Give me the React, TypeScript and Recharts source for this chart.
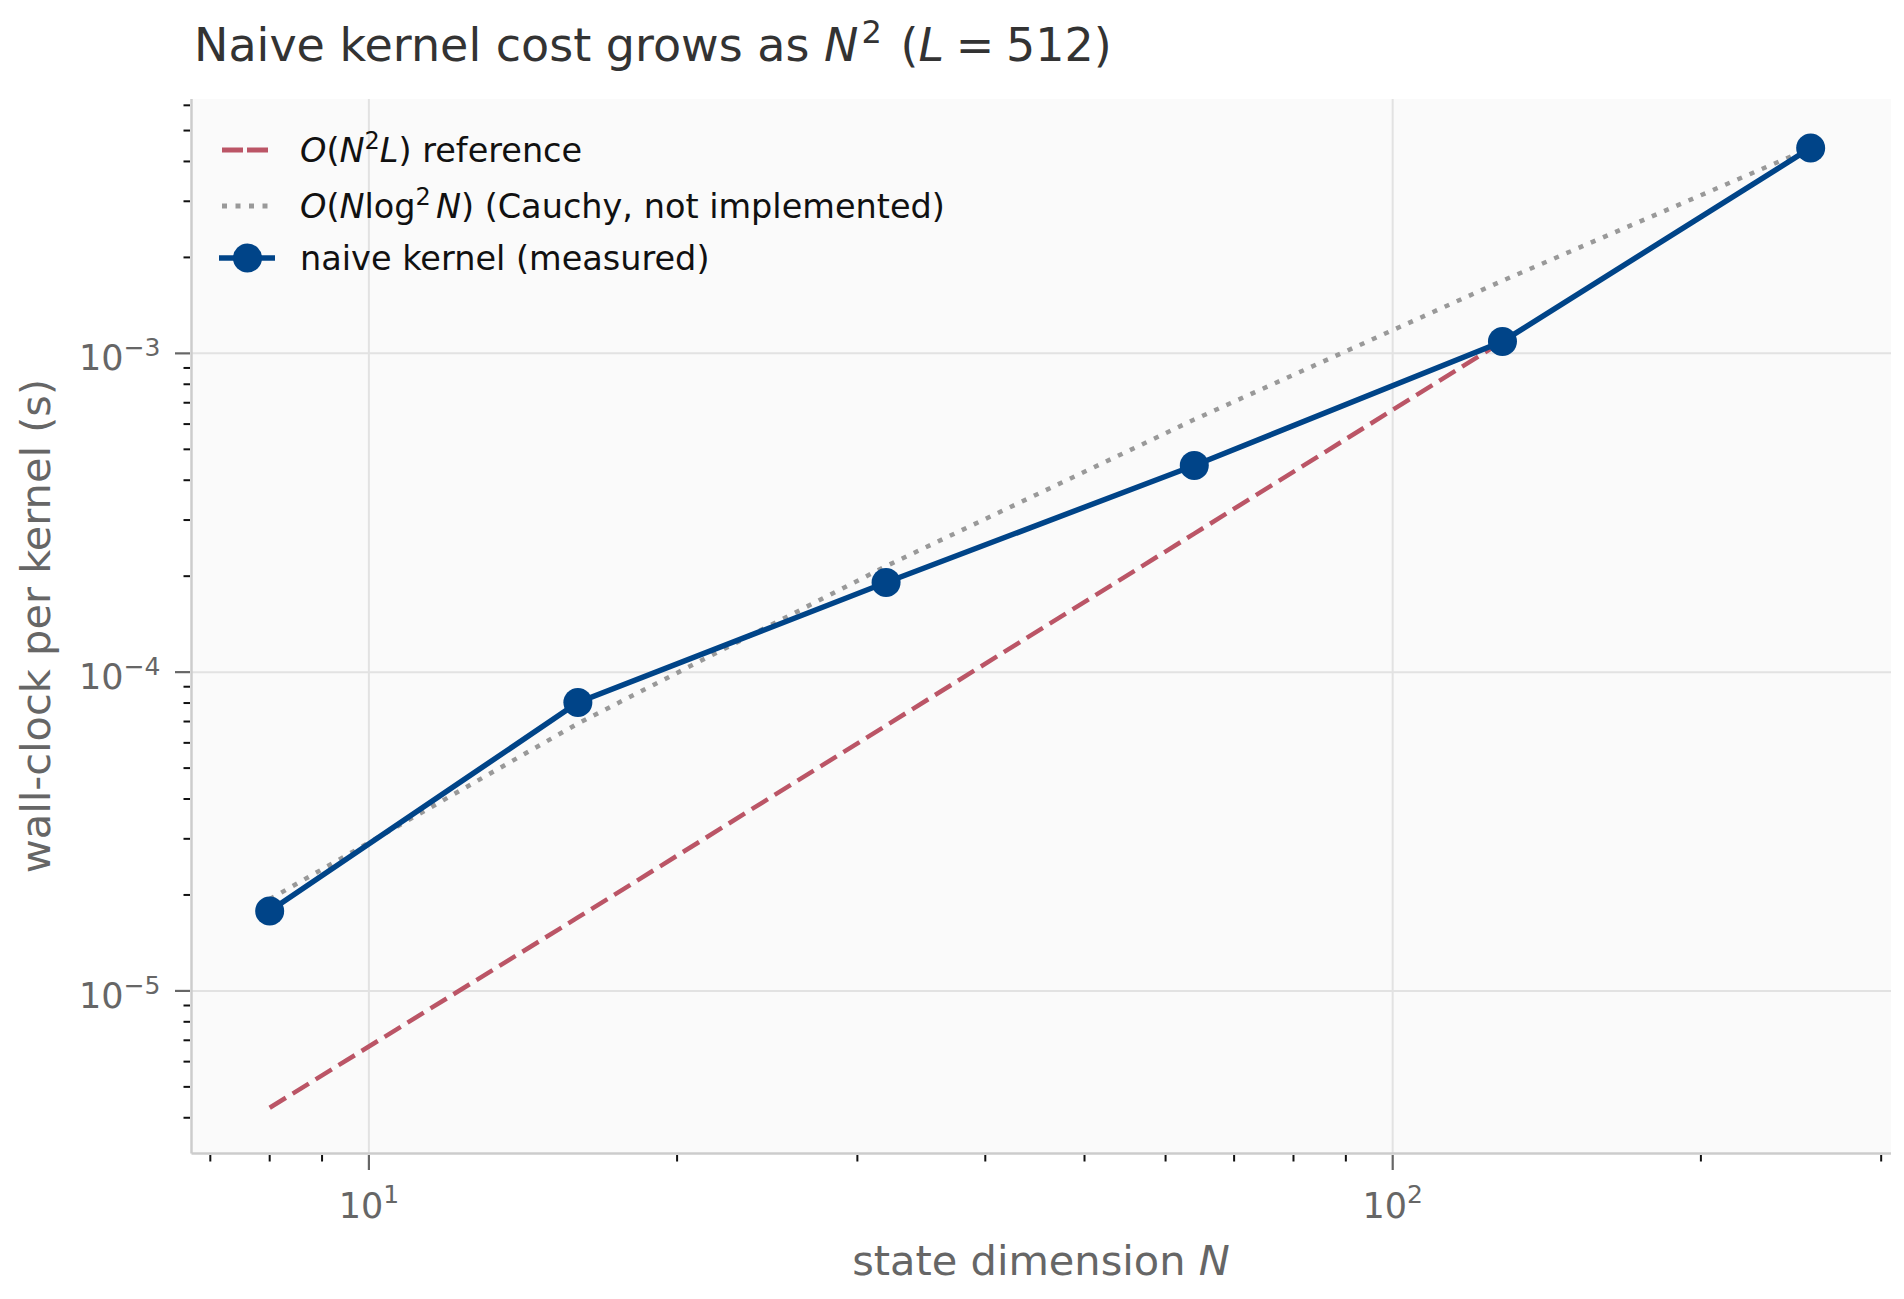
import React from "react";
import { LineChart, Line, XAxis, YAxis, CartesianGrid, Customized } from "recharts";

// state dimension N and wall-clock per kernel (s)
const stateDims = [8, 16, 32, 64, 128, 256];
const measuredSeconds = [1.78e-5, 8.03e-5, 1.91e-4, 4.45e-4, 1.09e-3, 4.41e-3];
const n2lReference = [4.3e-6, 1.7e-5, 6.8e-5, 2.72e-4, 1.09e-3, null];
const cauchyReference = [1.94e-5, 6.9e-5, 2.15e-4, 6.2e-4, 1.69e-3, 4.41e-3];

const xTicks = [7, 8, 9, 10, 20, 30, 40, 50, 60, 70, 80, 90, 100, 200, 300];
const xMajor = [10, 100];
const xMajorExp = ["1", "2"];

const yTicks = [
  4e-6, 5e-6, 6e-6, 7e-6, 8e-6, 9e-6,
  1e-5, 2e-5, 3e-5, 4e-5, 5e-5, 6e-5, 7e-5, 8e-5, 9e-5,
  1e-4, 2e-4, 3e-4, 4e-4, 5e-4, 6e-4, 7e-4, 8e-4, 9e-4,
  1e-3, 2e-3, 3e-3, 4e-3, 5e-3, 6e-3,
];
const yMajor = [1e-5, 1e-4, 1e-3];
const yMajorExp = ["\u22125", "\u22124", "\u22123"];

const FONT = "'DejaVu Sans', sans-serif";
const BLUE = "#004488";
const RED = "#BB5566";
const GREY = "#999999";

const data = stateDims.map((n, i) => ({
  n,
  measured: measuredSeconds[i],
  n2l: n2lReference[i],
  cauchy: cauchyReference[i],
}));

function XTick({ x, y, payload }: any) {
  const idx = xMajor.indexOf(payload.value);
  const major = idx >= 0;
  return (
    <g>
      <line
        x1={x}
        x2={x}
        y1={y + 1.5}
        y2={y + 1.5 + (major ? 15 : 6.5)}
        stroke={major ? "#666666" : "#111111"}
        strokeWidth={major ? 2.2 : 2}
      />
      {major && (
        <text x={x} y={y + 64.5} textAnchor="middle" fill="#666666" fontSize={35} fontFamily={FONT}>
          10
          <tspan dy={-15} fontSize={25}>
            {xMajorExp[idx]}
          </tspan>
        </text>
      )}
    </g>
  );
}

function YTick({ x, y, payload }: any) {
  const idx = yMajor.indexOf(payload.value);
  const major = idx >= 0;
  return (
    <g>
      <line
        x1={x - 1.5}
        x2={x - 1.5 - (major ? 15 : 6.5)}
        y1={y}
        y2={y}
        stroke={major ? "#666666" : "#111111"}
        strokeWidth={major ? 2.2 : 2}
      />
      {major && (
        <text x={x - 31} y={y + 16.6} textAnchor="end" fill="#666666" fontSize={35} fontFamily={FONT}>
          10
          <tspan dy={-14} fontSize={25}>
            {yMajorExp[idx]}
          </tspan>
        </text>
      )}
    </g>
  );
}

function Overlay() {
  const lx1 = 222;
  const lx2 = 268;
  const tx = 300;
  return (
    <g fontFamily={FONT}>
      {/* title */}
      <text x={194} y={61} fontSize={46} fill="#333333" style={{ whiteSpace: "pre" }}>
        Naive kernel cost grows as{" "}
        <tspan fontStyle="italic">N</tspan>
        <tspan dy={-18} dx={3} fontSize={32}>2</tspan>
        <tspan dy={18} dx={4}>{" ("}</tspan>
        <tspan fontStyle="italic">L</tspan>
        <tspan dx={-3}>{" = "}</tspan>
        <tspan dx={-3}>{"512)"}</tspan>
      </text>

      {/* axis labels */}
      <text x={1041} y={1275} textAnchor="middle" fontSize={41.5} fill="#666666">
        state dimension <tspan fontStyle="italic">N</tspan>
      </text>
      <text
        x={50}
        y={626}
        textAnchor="middle"
        fontSize={41.5}
        fill="#666666"
        transform="rotate(-90 50 626)"
      >
        wall-clock per kernel (s)
      </text>

      {/* legend */}
      <line x1={lx1} x2={lx2} y1={150} y2={150} stroke={RED} strokeWidth={5} strokeDasharray="21 4" />
      <text x={tx} y={161.5} fontSize={33.5} fill="#111111">
        <tspan fontStyle="italic">O</tspan>(<tspan fontStyle="italic">N</tspan>
        <tspan dy={-13} fontSize={24}>2</tspan>
        <tspan dy={13} fontStyle="italic">L</tspan>) reference
      </text>

      <line x1={lx1} x2={lx2} y1={206} y2={206} stroke={GREY} strokeWidth={5} strokeDasharray="5 8.5" />
      <text x={tx} y={217.5} fontSize={33.5} fill="#111111" style={{ whiteSpace: "pre" }}>
        <tspan fontStyle="italic">O</tspan>(<tspan fontStyle="italic">N</tspan>log
        <tspan dy={-13} fontSize={24}>2</tspan>
        <tspan dy={13} dx={5} fontStyle="italic">N</tspan>) (Cauchy, not implemented)
      </text>

      <line x1={lx1 - 3} x2={lx2 + 7} y1={258} y2={258} stroke={BLUE} strokeWidth={5.5} />
      <circle cx={247.5} cy={258} r={14.5} fill={BLUE} />
      <text x={tx} y={270} fontSize={33.5} fill="#111111">
        naive kernel (measured)
      </text>
    </g>
  );
}

export default function App() {
  return (
    <div style={{ position: "absolute", left: 0, top: 0, background: "#ffffff" }}>
      <LineChart
        width={1904}
        height={1299}
        data={data}
        margin={{ top: 99, right: 13, bottom: 0, left: 0 }}
      >
        <CartesianGrid
          fill="#fafafa"
          stroke="#e2e2e2"
          strokeWidth={2}
          horizontalValues={yMajor}
          verticalValues={xMajor}
        />
        <XAxis
          dataKey="n"
          type="number"
          scale="log"
          domain={[6.71, 306.7]}
          allowDataOverflow
          ticks={xTicks}
          interval={0}
          height={145.5}
          tickSize={0}
          tickMargin={0}
          tickLine={false}
          tick={<XTick />}
          axisLine={{ stroke: "#cccccc", strokeWidth: 2.5 }}
        />
        <YAxis
          type="number"
          scale="log"
          domain={[3.09e-6, 6.28e-3]}
          allowDataOverflow
          ticks={yTicks}
          interval={0}
          width={191.5}
          tickSize={0}
          tickMargin={0}
          tickLine={false}
          tick={<YTick />}
          axisLine={{ stroke: "#cccccc", strokeWidth: 2.5 }}
        />
        <Line
          dataKey="n2l"
          stroke={RED}
          strokeWidth={4.5}
          strokeDasharray="19 8"
          dot={false}
          activeDot={false}
          isAnimationActive={false}
        />
        <Line
          dataKey="cauchy"
          stroke={GREY}
          strokeWidth={4.5}
          strokeDasharray="5 8.3"
          dot={false}
          activeDot={false}
          isAnimationActive={false}
        />
        <Line
          dataKey="measured"
          stroke={BLUE}
          strokeWidth={5.5}
          dot={{ r: 14.5, fill: BLUE, stroke: "none" }}
          activeDot={false}
          isAnimationActive={false}
        />
        <Customized component={Overlay} />
      </LineChart>
    </div>
  );
}
